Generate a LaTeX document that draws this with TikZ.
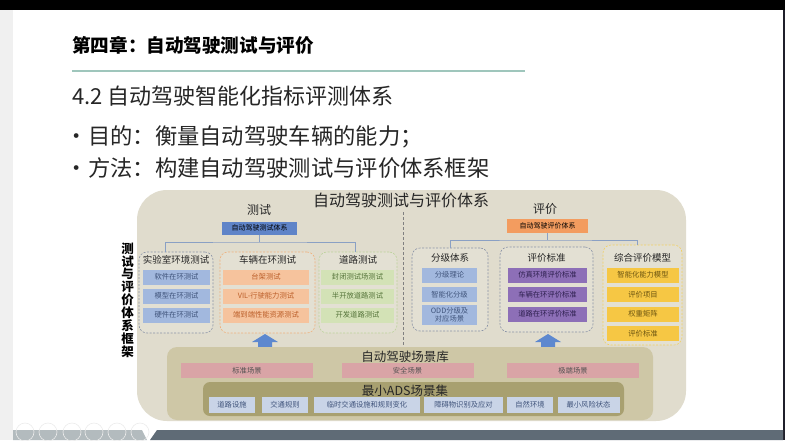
\documentclass[tikz,border=0pt]{standalone}
\usepackage{fontspec}
\setmainfont{Noto Sans CJK SC}
\usetikzlibrary{arrows.meta,calc,positioning}
\definecolor{stripgrey}{HTML}{F0F0F0}
\definecolor{edgedark}{HTML}{1F1F2A}
\definecolor{barlight}{HTML}{B3BBBE}
\definecolor{bardark}{HTML}{5F6B76}
\definecolor{tealline}{HTML}{9FC6BC}
\definecolor{headtext}{HTML}{262626}
\definecolor{bgbeige}{HTML}{E0DCCD}
\definecolor{grpfill}{HTML}{E3E0D3}
\definecolor{libkhaki}{HTML}{CEC7A6}
\definecolor{adsolive}{HTML}{A8A070}
\definecolor{pinkfill}{HTML}{D9A4A6}
\definecolor{scenefill}{HTML}{C9D4E7}
\definecolor{topblue}{HTML}{5F84C8}
\definecolor{toporange}{HTML}{F39C5F}
\definecolor{labfill}{HTML}{A2B8DE}
\definecolor{labtext}{HTML}{41557C}
\definecolor{vehfill}{HTML}{F6C39D}
\definecolor{vehtext}{HTML}{BC5F2A}
\definecolor{roadfill}{HTML}{D3E2B6}
\definecolor{roadtext}{HTML}{55743A}
\definecolor{stdfill}{HTML}{8D6FB7}
\definecolor{stdtext}{HTML}{2F2150}
\definecolor{modelfill}{HTML}{F6C744}
\definecolor{modeltext}{HTML}{6B5410}
\definecolor{greydash}{HTML}{8A93A6}
\definecolor{vehdash}{HTML}{EFB07C}
\definecolor{roaddash}{HTML}{BCD39A}
\definecolor{modeldash}{HTML}{F1D064}
\definecolor{brkline}{HTML}{8AA0C4}
\definecolor{uparrow}{HTML}{5D88CF}
\newcommand{\fsz}[1]{\fontsize{#1}{#1}\selectfont}
\tikzset {
  >=Stealth,
  every node/.style={font=\small, inner sep=0pt},
  grp/.style={draw, fill=grpfill, rounded corners=8pt, line width=0.6pt,
    dash pattern=on 2pt off 1.5pt},
  grptitle/.style={font=\fsz{9.5}, text=headtext},
  item/.style={minimum height=15pt, align=center, font=\fontsize{7.3}{8.3}\selectfont},
  bracket/.style={draw=brkline, line width=0.8pt},
}

\begin{document}
\begin{tikzpicture}[x=1pt,y=-1pt]
      \useasboundingbox (0,0) rectangle (785,440);
      % slide frame
      \fill[white] (0,0) rectangle (785,440);
      \fill[black] (0,0) rectangle (785,10);
      \fill[stripgrey] (0,10) rectangle (13,440);
      \fill[edgedark] (783,10) rectangle (785,440);
      \fill[barlight] (13,430) -- (142,430) -- (147,440) -- (13,440) -- cycle;
      \fill[bardark] (157,430) -- (783,430) -- (783,440) -- (150,440) -- cycle;
      \foreach \cx in {25,48,72,94,117,140}
        \draw[gray!15, line width=0.6pt] (\cx,432) circle[radius=9];

      \node[anchor=west, font=\fsz{18.6}\bfseries] (chapter) at (72,45) {第四章：自动驾驶测试与评价};
      \draw[tealline, line width=2pt] (72,71) -- (525,71);
      \node[anchor=west, font=\fsz{22}, text=headtext] (section) at (72,96) {4.2 自动驾驶智能化指标评测体系};
      \node[anchor=west, font=\fsz{22.3}, text=headtext] (aim) at (72,137) {\makebox[16pt][l]{\hspace{-7pt}•}目的：衡量自动驾驶车辆的能力；};
      \node[anchor=west, font=\fsz{22.3}, text=headtext] (way) at (72,168) {\makebox[16pt][l]{\hspace{-7pt}•}方法：构建自动驾驶测试与评价体系框架};

      % framework
      \fill[bgbeige, rounded corners=30pt] (137,190) rectangle (686,421);
      \node[font=\fontsize{12.5}{12.9}\bfseries, align=center] (frameLabel) at (127.5,300)
        {测\\试\\与\\评\\价\\体\\系\\框\\架};
      \node[font=\fsz{16}, text=headtext] (sysTitle) at (401,200) {自动驾驶测试与评价体系};
      \draw[gray, line width=0.6pt, dash pattern=on 3pt off 2pt] (403,212) -- (403,345);

      % test side
      \node[font=\fsz{12}, text=headtext] (testTitle) at (259,210) {测试};
      \node[fill=topblue, minimum width=75pt, minimum height=13pt, font=\fsz{7}] (testSys) at (259.5,228) {自动驾驶测试体系};

      \node[grp, draw=greydash, minimum width=74pt, minimum height=81pt] (grpLab) at (176,292.5) {};
      \node[grp, draw=vehdash, minimum width=95pt, minimum height=81pt] (grpVeh) at (267.5,292.5) {};
      \node[grp, draw=roaddash, minimum width=78pt, minimum height=81pt] (grpRoad) at (358,292.5) {};
      \node[grptitle] (labTitle) at (176,260) {实验室环境测试};
      \node[grptitle] (vehTitle) at (267.5,260) {车辆在环测试};
      \node[grptitle] (roadTitle) at (358,260) {道路测试};

      \foreach \txt [count=\i] in {软件在环测试,模型在环测试,硬件在环测试}
        \node[item, fill=labfill, text=labtext, minimum width=67pt] (lab\i) at (176.5,258+19*\i) {\txt};
      \foreach \txt [count=\i] in {台架测试,VIL-行驶能力测试,端到端性能资源测试}
        \node[item, fill=vehfill, text=vehtext, minimum width=86pt] (veh\i) at (266,258+19*\i) {\txt};
      \foreach \txt [count=\i] in {封闭测试场测试,半开放道路测试,开发道路测试}
        \node[item, fill=roadfill, text=roadtext, minimum width=73pt] (road\i) at (357.5,258+19*\i) {\txt};

      \coordinate (testBar) at (259.5,242);
      \draw[bracket] ([xshift=-11pt]grpLab.north) |- (testBar) -| ([xshift=-3pt]grpRoad.north);
      \draw[bracket] (testSys.south) -- (testBar);

      % evaluation side
      \node[font=\fsz{12}, text=headtext] (evalTitle) at (545,209) {评价};
      \node[fill=toporange, minimum width=81pt, minimum height=14pt, font=\fsz{7}] (evalSys) at (547.5,226) {自动驾驶评价体系};

      \node[grp, draw=greydash, minimum width=76pt, minimum height=83pt] (grpGrade) at (450,289.5) {};
      \node[grp, draw=greydash, minimum width=93pt, minimum height=85pt] (grpStd) at (546.5,289.5) {};
      \node[grp, draw=modeldash, minimum width=79pt, minimum height=100pt] (grpModel) at (642.5,295) {};
      \node[grptitle] (gradeTitle) at (450,258) {分级体系};
      \node[grptitle] (stdTitle) at (546.5,258) {评价标准};
      \node[grptitle] (modelTitle) at (642.5,258) {综合评价模型};

      \foreach \txt [count=\i] in {分级理论,智能化分级}
        \node[item, fill=labfill, text=labtext, minimum width=55pt] (grade\i) at (449.5,255.5+19.5*\i) {\txt};
      \node[item, fill=labfill, text=labtext, minimum width=55pt, minimum height=20pt] (grade3) at (449.5,315) {ODD分级及\\对应场景};
      \foreach \txt [count=\i] in {仿真环境评价标准,车辆在环评价标准,道路在环评价标准}
        \node[item, fill=stdfill, text=stdtext, minimum width=79pt] (std\i) at (547.5,255.5+19.5*\i) {\txt};
      \foreach \txt [count=\i] in {智能化能力模型,评价项目,权重矩阵,评价标准}
        \node[item, fill=modelfill, text=modeltext, minimum width=72pt] (model\i) at (643,255.5+19.5*\i) {\txt};

      \coordinate (evalBar) at (547.5,240);
      \draw[bracket] (grpGrade.north) |- (evalBar) -| ([xshift=-5pt]grpModel.north);
      \draw[bracket] (evalSys.south) -- (evalBar);

      % scene library
      \foreach \ax in {265,548}
        \fill[uparrow] (\ax,334) -- ++(13,8) -- ++(-6,0) -- ++(0,5) -- ++(-14,0) -- ++(0,-5) -- ++(-6,0) -- cycle;
      \fill[libkhaki, rounded corners=10pt] (167,347) rectangle (653,420);
      \node[font=\fsz{12.5}, text=headtext] (libTitle) at (405,357) {自动驾驶场景库};
      \foreach \txt/\cx [count=\i] in {标准场景/247,安全场景/407.5,极端场景/573}
        \node[item, fill=pinkfill, text=headtext!80, minimum width=132pt] (lib\i) at (\cx,370.5) {\txt};

      \fill[adsolive, rounded corners=7pt] (203,382) rectangle (624,416);
      \node[font=\fsz{12.5}, text=headtext] (adsTitle) at (405,390.5) {最小ADS场景集};
      \foreach \txt/\cx/\w [count=\i] in {道路设施/232/46,交通规则/285/46,临时交通设施和规则变化/367/106,
          障碍物识别及应对/463.5/79,自然环境/530/46,最小风险状态/588.5/62}
        \node[item, fill=scenefill, text=labtext, minimum width=\w pt, minimum height=16pt] (ads\i) at (\cx,405) {\txt};
    \end{tikzpicture}
\end{document}
